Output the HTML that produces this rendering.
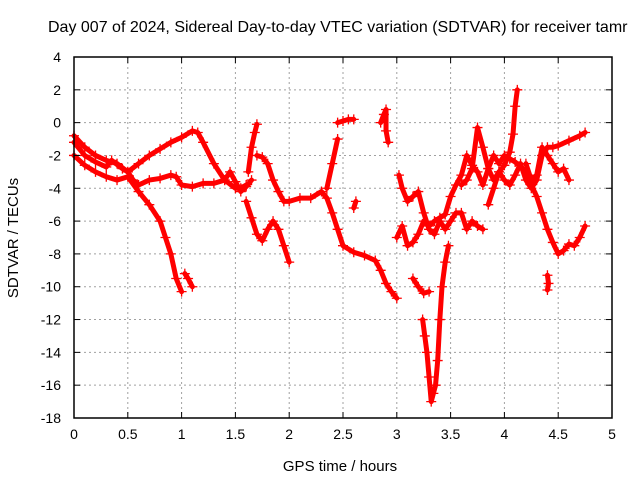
<!DOCTYPE html>
<html><head><meta charset="utf-8"><style>
body{margin:0;background:#fff}
svg{display:block;font-family:"Liberation Sans",sans-serif}
</style></head><body>
<svg id="c" width="640" height="480">
<text x="48" y="32" font-size="16" text-anchor="start">Day 007 of 2024, Sidereal Day-to-day VTEC variation (SDTVAR) for receiver tamr</text>
<text x="340" y="471" font-size="15" text-anchor="middle">GPS time / hours</text>
<text transform="translate(18,238) rotate(-90)" font-size="15" text-anchor="middle">SDTVAR / TECUs</text>
<g id="grid"></g><g id="marks"></g><g id="axes"></g>
</svg>
<script>
const xTicks=[0,0.5,1,1.5,2,2.5,3,3.5,4,4.5,5];
const xTickLabels=["0","0.5","1","1.5","2","2.5","3","3.5","4","4.5","5"];
const yTicks=[4,2,0,-2,-4,-6,-8,-10,-12,-14,-16,-18];
const yTickLabels=["4","2","0","-2","-4","-6","-8","-10","-12","-14","-16","-18"];
const track1=[[0,-0.8],[0.1,-1.5],[0.2,-2.0],[0.3,-2.3],[0.4,-2.5],[0.5,-3.0],[0.6,-2.5],[0.7,-2.0],[0.8,-1.6],[0.9,-1.2],[1.0,-0.9],[1.1,-0.5],[1.15,-0.6],[1.2,-1.2],[1.3,-2.5],[1.4,-3.5],[1.5,-4.0],[1.55,-4.0],[1.6,-3.8]];
const track2=[[0,-1.2],[0.1,-2.0],[0.2,-2.4],[0.3,-2.7],[0.35,-2.3],[0.45,-2.8],[0.5,-3.0],[0.55,-3.5],[0.6,-3.8],[0.7,-3.5],[0.8,-3.4],[0.9,-3.2],[0.95,-3.3],[1.0,-3.8],[1.1,-3.9],[1.2,-3.7],[1.3,-3.7],[1.4,-3.5],[1.45,-3.0],[1.5,-3.6],[1.55,-4.2],[1.6,-3.9],[1.65,-3.5]];
const track3=[[0,-2.0],[0.1,-2.6],[0.2,-3.0],[0.3,-3.3],[0.4,-3.5],[0.5,-3.3],[0.6,-4.2],[0.7,-5.0],[0.8,-6.0],[0.85,-7.0],[0.9,-8.0],[0.95,-9.5],[1.0,-10.3]];
const track3b=[[1.03,-9.2],[1.06,-9.5],[1.1,-10.0]];
const track4=[[1.62,-3.0],[1.65,-1.5],[1.68,-0.6],[1.7,-0.1]];
const track5=[[1.7,-2.0],[1.75,-2.1],[1.8,-2.5],[1.85,-3.5],[1.9,-4.2],[1.95,-4.8],[2.0,-4.8],[2.1,-4.6],[2.2,-4.6],[2.3,-4.2],[2.35,-4.6],[2.4,-5.5],[2.45,-6.5],[2.5,-7.5],[2.6,-7.9],[2.7,-8.1],[2.8,-8.4],[2.85,-9.0],[2.9,-9.8],[2.95,-10.3],[3.0,-10.7]];
const track6=[[1.6,-4.8],[1.65,-5.8],[1.7,-6.8],[1.75,-7.2],[1.8,-6.5],[1.85,-6.0],[1.9,-6.5],[1.95,-7.5],[2.0,-8.5]];
const track7=[[2.35,-4.0],[2.4,-2.5],[2.45,-1.0]];
const track8=[[2.45,0.0],[2.5,0.1],[2.55,0.2],[2.6,0.2]];
const track9=[[2.6,-5.2],[2.62,-4.8]];
const track10=[[2.85,0.0],[2.88,0.5],[2.9,0.8],[2.9,-0.5],[2.92,-1.2]];
const track11=[[3.0,-7.0],[3.05,-6.3],[3.1,-7.5],[3.15,-7.3],[3.2,-6.8],[3.25,-6.0],[3.3,-6.3],[3.35,-6.0],[3.4,-5.8],[3.45,-5.6],[3.5,-4.5],[3.55,-3.8],[3.6,-3.2],[3.65,-2.0],[3.7,-2.6],[3.75,-3.0],[3.8,-3.8],[3.85,-2.8],[3.9,-2.0],[3.95,-2.5],[4.0,-2.0],[4.05,-2.2],[4.1,-2.4],[4.2,-3.0],[4.25,-3.8],[4.3,-4.5],[4.35,-5.5],[4.4,-6.5],[4.45,-7.3],[4.5,-8.0],[4.55,-7.8],[4.6,-7.4],[4.65,-7.5],[4.7,-7.0],[4.75,-6.3]];
const track12=[[3.02,-3.2],[3.05,-4.0],[3.1,-4.8],[3.15,-4.5],[3.2,-4.2],[3.25,-5.5],[3.3,-6.5],[3.35,-6.8],[3.4,-6.0],[3.45,-6.5],[3.5,-6.0],[3.55,-5.5],[3.6,-5.5],[3.65,-6.5],[3.7,-6.0],[3.75,-6.3],[3.8,-6.5]];
const track13=[[3.15,-9.5],[3.2,-10.0],[3.25,-10.4],[3.3,-10.3]];
const track14=[[3.24,-12.0],[3.26,-13.0],[3.28,-14.0],[3.3,-15.5],[3.32,-17.0],[3.34,-16.5],[3.36,-16.0],[3.38,-14.5],[3.4,-12.0],[3.42,-10.0],[3.45,-8.5],[3.48,-7.5]];
const track15=[[3.6,-3.8],[3.65,-3.5],[3.7,-2.8],[3.75,-0.3],[3.8,-1.5],[3.85,-2.8],[3.9,-3.5],[3.95,-3.0],[4.0,-3.5],[4.05,-3.8],[4.1,-3.2],[4.15,-2.5],[4.2,-3.5],[4.25,-4.0],[4.3,-3.5],[4.35,-2.0],[4.4,-1.5],[4.45,-1.5],[4.5,-1.4],[4.6,-1.1],[4.7,-0.8],[4.75,-0.6]];
const track16=[[3.85,-5.0],[3.9,-4.0],[3.95,-3.0],[4.0,-2.6],[4.05,-1.8],[4.08,-0.7],[4.1,1.0],[4.12,2.0]];
const track17=[[4.2,-2.5],[4.25,-3.5],[4.3,-3.2],[4.35,-1.5],[4.4,-2.0],[4.45,-2.5],[4.5,-3.0],[4.55,-2.8],[4.6,-3.5]];
const track18=[[4.4,-9.3],[4.41,-9.8],[4.4,-10.2]];
const tracks=[track1,track2,track3,track3b,track4,track5,track6,track7,track8,track9,track10,track11,track12,track13,track14,track15,track16,track17,track18];

const X0=74,X1=612,Y0=57,Y1=418;
const xs=v=>X0+(v-0)/(5-0)*(X1-X0);
const ys=v=>Y0+(4-v)/(4+18)*(Y1-Y0);
const NS="http://www.w3.org/2000/svg";
function mk(t,a,p){const e=document.createElementNS(NS,t);for(const k in a)e.setAttribute(k,a[k]);p.appendChild(e);return e;}
const grid=document.getElementById('grid'),axes=document.getElementById('axes'),marks=document.getElementById('marks');
xTicks.forEach((v,i)=>{
  const x=xs(v);
  if(i>0&&i<xTicks.length-1){const g=mk('line',{x1:x,x2:x,y1:Y0,y2:Y1,stroke:'#a0a0a0','stroke-dasharray':'2,3'},grid);
  
  }
  mk('line',{x1:x,x2:x,y1:Y1,y2:Y1-6,stroke:'#000'},axes);
  mk('line',{x1:x,x2:x,y1:Y0,y2:Y0+6,stroke:'#000'},axes);
  const t=mk('text',{x:x,y:Y1+21,'font-size':14,'text-anchor':'middle'},axes);t.textContent=xTickLabels[i];
  
  
});
yTicks.forEach((v,i)=>{
  const y=ys(v);
  if(i>0&&i<yTicks.length-1){const g=mk('line',{x1:X0,x2:X1,y1:y,y2:y,stroke:'#a0a0a0','stroke-dasharray':'2,3'},grid);
  
  }
  mk('line',{x1:X0,x2:X0+6,y1:y,y2:y,stroke:'#000'},axes);
  mk('line',{x1:X1,x2:X1-6,y1:y,y2:y,stroke:'#000'},axes);
  const t=mk('text',{x:X0-13,y:y+5,'font-size':14,'text-anchor':'end'},axes);t.textContent=yTickLabels[i];
  
  
});
const fr=mk('rect',{x:X0,y:Y0,width:X1-X0,height:Y1-Y0,fill:'none',stroke:'#000','stroke-width':1.5},axes);


tracks.forEach(tr=>{
  const g=mk('g',{},marks);
  
  
  mk('polyline',{points:tr.map(p=>xs(p[0])+','+ys(p[1])).join(' '),fill:'none',stroke:'#f00','stroke-width':5,'stroke-linejoin':'round','stroke-linecap':'round'},g);
  tr.forEach(p=>{
    const x=xs(p[0]),y=ys(p[1]);
    const m=mk('path',{d:`M${x-5},${y}h10M${x},${y-5}v10`,stroke:'#f00','stroke-width':1.3},g);
    
    
  });
});
</script>
</body></html>
